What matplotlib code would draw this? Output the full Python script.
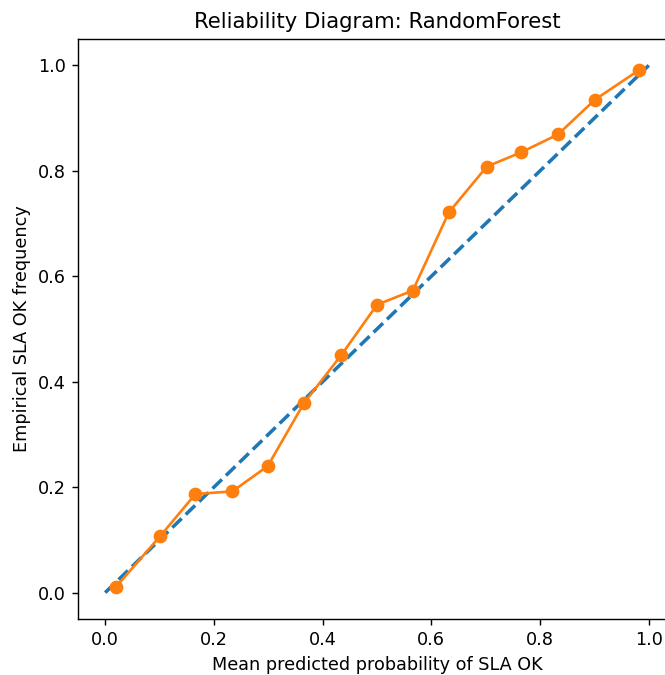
import matplotlib
matplotlib.use("Agg")
import matplotlib.pyplot as plt

mean_pred = [0.020, 0.101, 0.166, 0.234, 0.299, 0.366, 0.434, 0.500, 0.566, 0.632, 0.702, 0.765, 0.833, 0.901, 0.982]
frac_pos = [0.011, 0.107, 0.187, 0.192, 0.240, 0.360, 0.450, 0.546, 0.573, 0.721, 0.808, 0.835, 0.869, 0.935, 0.991]
diag = [0.0, 1.0]

s = 1.27
plt.rcParams.update({
    "font.size": 10 * s,
    "axes.linewidth": 0.8 * s,
    "xtick.major.size": 3.5 * s,
    "ytick.major.size": 3.5 * s,
    "xtick.major.width": 0.8 * s,
    "ytick.major.width": 0.8 * s,
    "xtick.major.pad": 3.5 * s,
    "ytick.major.pad": 3.5 * s,
    "axes.titlepad": 6 * s,
    "axes.labelpad": 4 * s,
})

fig = plt.figure(figsize=(6.65, 6.75), dpi=100)
ax = fig.add_axes([78/665, (675-619)/675, 598/665, 580/675])
ax.plot(diag, diag, linestyle="--", color="#1f77b4", linewidth=2 * s)
ax.plot(mean_pred, frac_pos, marker="o", color="#ff7f0e", linewidth=1.5 * s, markersize=7 * s)
ax.set_xlabel("Mean predicted probability of SLA OK")
ax.set_ylabel("Empirical SLA OK frequency")
ax.set_title("Reliability Diagram: RandomForest")
ax.spines["right"].set_visible(False)
fig.savefig("out.png", dpi=100)
